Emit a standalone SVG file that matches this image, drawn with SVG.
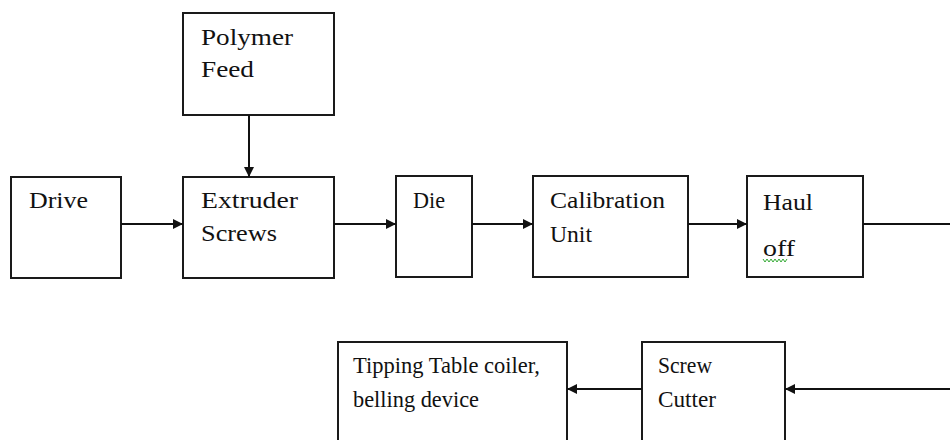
<svg xmlns="http://www.w3.org/2000/svg" width="950" height="440" viewBox="0 0 950 440">
<style>
.box{fill:#fff;stroke:#1a1a1a;stroke-width:2}
.t{font-family:"Liberation Serif","Times New Roman",serif;font-size:23px;fill:#111}
.c{stroke:#111;stroke-width:2;fill:none}
</style>
<defs>
<marker id="ah" viewBox="0 0 10 10" refX="10" refY="5" markerWidth="10" markerHeight="10" markerUnits="userSpaceOnUse" orient="auto">
<path d="M0,0 L10,5 L0,10 Z" fill="#111"/>
</marker>
</defs>
<rect width="950" height="440" fill="#fff"/>
<g id="polymer-feed"><rect class="box" x="183" y="13" width="151" height="102"/><text class="t" x="201" y="45" textLength="92" lengthAdjust="spacingAndGlyphs">Polymer</text><text class="t" x="201" y="77" textLength="53" lengthAdjust="spacingAndGlyphs">Feed</text></g>
<g id="drive"><rect class="box" x="11" y="177" width="110" height="101"/><text class="t" x="29" y="208" textLength="59" lengthAdjust="spacingAndGlyphs">Drive</text></g>
<g id="extruder"><rect class="box" x="183" y="177" width="151" height="101"/><text class="t" x="201" y="208" textLength="97" lengthAdjust="spacingAndGlyphs">Extruder</text><text class="t" x="201" y="241" textLength="76" lengthAdjust="spacingAndGlyphs">Screws</text></g>
<g id="die"><rect class="box" x="396" y="176" width="76" height="101"/><text class="t" x="413" y="208" textLength="32" lengthAdjust="spacingAndGlyphs">Die</text></g>
<g id="calibration"><rect class="box" x="533" y="176" width="155" height="101"/><text class="t" x="550" y="208" textLength="115" lengthAdjust="spacingAndGlyphs">Calibration</text><text class="t" x="550" y="242" textLength="42" lengthAdjust="spacingAndGlyphs">Unit</text></g>
<g id="haul-off"><rect class="box" x="747" y="176" width="116" height="101"/><text class="t" x="763" y="210" textLength="50" lengthAdjust="spacingAndGlyphs">Haul</text><text class="t" x="763" y="256" textLength="32" lengthAdjust="spacingAndGlyphs">off</text><path d="M763,259 l2,3 l2,-3 l2,3 l2,-3 l2,3 l2,-3 l2,3 l2,-3 l2,3 l2,-3 l2,3 l2,-3" fill="none" stroke="#3a3" stroke-width="1"/></g>
<g id="tipping"><rect class="box" x="338" y="342" width="229" height="110"/><text class="t" x="353" y="373" textLength="187" lengthAdjust="spacingAndGlyphs">Tipping Table coiler,</text><text class="t" x="353" y="407" textLength="126" lengthAdjust="spacingAndGlyphs">belling device</text></g>
<g id="screw-cutter"><rect class="box" x="642" y="342" width="143" height="110"/><text class="t" x="658" y="373" textLength="54" lengthAdjust="spacingAndGlyphs">Screw</text><text class="t" x="658" y="407" textLength="58" lengthAdjust="spacingAndGlyphs">Cutter</text></g>
<g id="connectors">
<line class="c" x1="249" y1="115" x2="249" y2="177" marker-end="url(#ah)"/>
<line class="c" x1="121" y1="224" x2="183" y2="224" marker-end="url(#ah)"/>
<line class="c" x1="334" y1="224" x2="396" y2="224" marker-end="url(#ah)"/>
<line class="c" x1="472" y1="224" x2="533" y2="224" marker-end="url(#ah)"/>
<line class="c" x1="688" y1="224" x2="747" y2="224" marker-end="url(#ah)"/>
<line class="c" x1="863" y1="224" x2="950" y2="224"/>
<line class="c" x1="950" y1="389" x2="785" y2="389" marker-end="url(#ah)"/>
<line class="c" x1="642" y1="389" x2="567" y2="389" marker-end="url(#ah)"/>
</g>
</svg>
